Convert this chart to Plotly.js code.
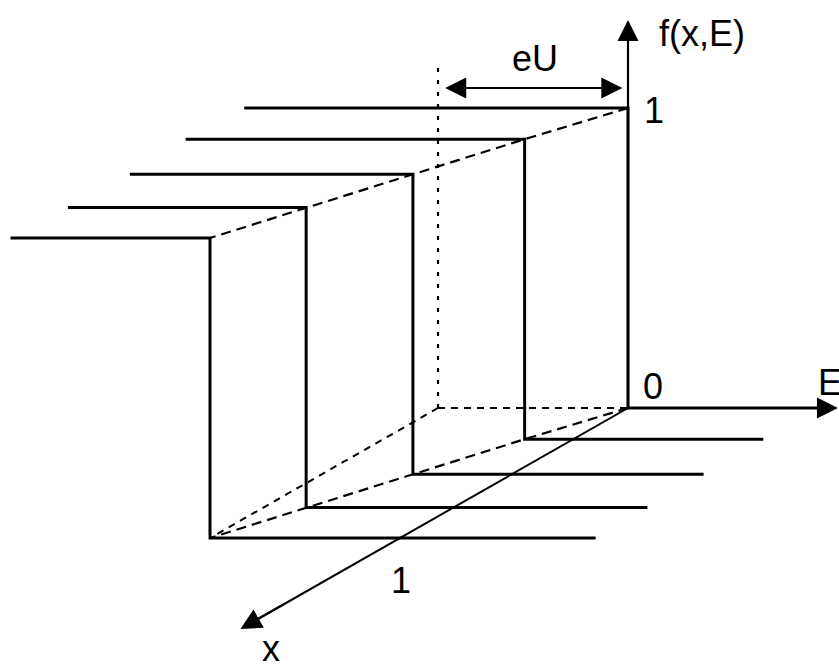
<!DOCTYPE html>
<html>
<head>
<meta charset="utf-8">
<script src="https://cdn.plot.ly/plotly-3.0.1.min.js"></script>
<style>
  html, body { margin: 0; padding: 0; background: #fff; }
  #graphDiv { width: 839px; height: 667px; }
</style>
</head>
<body>
<div id="graphDiv"></div>
<script>
// five f(x,E) step profiles, from the back (x = 0) to the front (x = 1)
// E is counted in units of eU, f runs from 0 to 1
var profileX = [0, 0.24, 0.51, 0.765, 1];
var stepE = [0, -0.256, -0.52, -0.776, -1];
var leftE = [-2.02, -2.04, -2.01, -2.03, -2.05];
var rightE = [1.105, 1.0, 1.01, 1.02, 1.03];

var fAxisTop = 1.293;
var eAxisEnd = 1.105;
var xAxisEnd = 1.7;
var markerE = -1;       // dotted guide at E = -eU
var markerTop = 1.16;
var eUArrowF = 1.067;
var eUArrowEnds = [-0.97, -0.03];

// oblique view: E to the right, f up, x towards the lower left
var unitE = 190, unitF = 300, dirX = [-228, -130];
function px(E, x) { return E * unitE + x * dirX[0]; }
function py(f, x) { return f * unitF + x * dirX[1]; }

function line(pts, width, dash) {
  return {
    x: pts.map(function (p) { return px(p[0], p[1]); }),
    y: pts.map(function (p) { return py(p[2], p[1]); }),
    type: 'scatter',
    mode: 'lines',
    hoverinfo: 'skip',
    line: {color: 'black', width: width, dash: dash || 'solid'}
  };
}

var data = [];

// hidden construction lines
data.push(line([[markerE, 0, 0], [markerE, 0, markerTop]], 2.2, '4px,8px'));
data.push(line([[markerE, 0, 0], [0, 0, 0]], 2, '7px,6px'));
data.push(line([[markerE, 0, 0], [markerE, 1, 0]], 2, '7px,6px'));

var topPts = [], bottomPts = [];
for (var k = 0; k < profileX.length; k++) {
  topPts.push([stepE[k], profileX[k], 1]);
  bottomPts.push([stepE[k], profileX[k], 0]);
}
data.push(line(topPts, 2.2, '10px,6px'));
data.push(line(bottomPts, 2.2, '10px,6px'));

// axes
data.push(line([[0, 0, 0], [0, 0, fAxisTop - 0.03]], 2.2));
data.push(line([[0, 0, 0], [0, xAxisEnd - 0.04, 0]], 2));

// the profiles themselves
for (var k = 0; k < profileX.length; k++) {
  var xk = profileX[k];
  data.push(line([
    [leftE[k], xk, 1],
    [stepE[k], xk, 1],
    [stepE[k], xk, 0],
    [k === 0 ? rightE[k] - 0.04 : rightE[k], xk, 0]
  ], 3));
}

var font = {family: 'Liberation Sans, Arial, sans-serif', size: 36, color: 'black'};

function arrow(tip, tail, both) {
  return {
    x: px(tip[0], tip[1]), y: py(tip[2], tip[1]),
    ax: px(tail[0], tail[1]), ay: py(tail[2], tail[1]),
    xref: 'x', yref: 'y', axref: 'x', ayref: 'y',
    text: '', showarrow: true,
    arrowhead: 2, arrowsize: 2.1, arrowwidth: 2, arrowcolor: 'black',
    startarrowhead: 2, startarrowsize: 2.1,
    arrowside: both ? 'end+start' : 'end'
  };
}

function label(txt, at, dx, dy) {
  return {
    x: px(at[0], at[1]), y: py(at[2], at[1]),
    xref: 'x', yref: 'y',
    text: txt, showarrow: false, font: font,
    xanchor: 'center', yanchor: 'middle',
    xshift: dx, yshift: dy
  };
}

var annotations = [
  arrow([0, 0, fAxisTop], [0, 0, fAxisTop - 0.12]),
  arrow([eAxisEnd, 0, 0], [eAxisEnd - 0.2, 0, 0]),
  arrow([0, xAxisEnd, 0], [0, xAxisEnd - 0.2, 0]),
  arrow([eUArrowEnds[1], 0, eUArrowF], [eUArrowEnds[0], 0, eUArrowF], true),
  label('f(x,E)', [0, 0, fAxisTop], 74, -13),
  label('eU', [-0.5, 0, eUArrowF], 2, 29),
  label('1', [0, 0, 1], 26, -2),
  label('0', [0, 0, 0], 25, 22),
  label('E', [eAxisEnd, 0, 0], -8, 26),
  label('1', [0, 1, 0], 1, -42),
  label('x', [0, xAxisEnd, 0], 31, -19)
];

var layout = {
  width: 839,
  height: 667,
  margin: {l: 0, r: 0, t: 0, b: 0},
  paper_bgcolor: 'white',
  plot_bgcolor: 'white',
  showlegend: false,
  xaxis: {range: [-628, 211], visible: false},
  yaxis: {range: [-259, 408], visible: false},
  annotations: annotations
};

Plotly.newPlot('graphDiv', data, layout, {staticPlot: true});
</script>
</body>
</html>
